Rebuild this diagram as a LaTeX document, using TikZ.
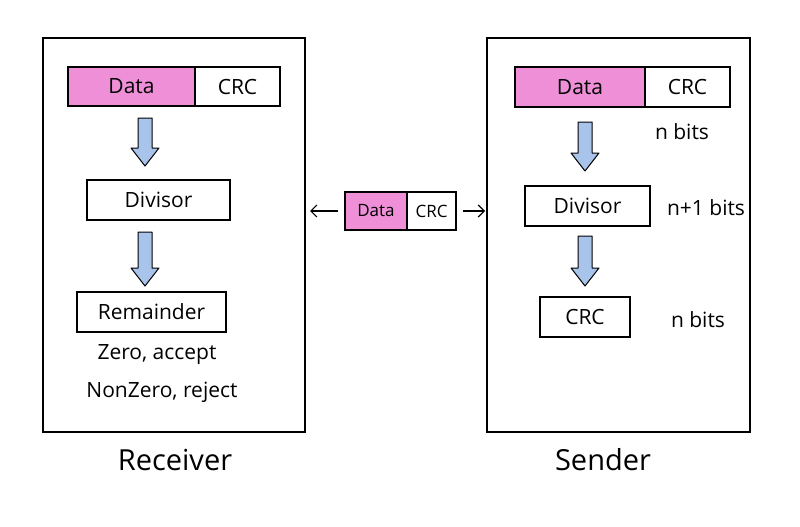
\documentclass[tikz,border=0pt]{standalone}
\usepackage{fontspec}
\setmainfont{Open Sans}
\usetikzlibrary{arrows.meta}
\definecolor{pinkf}{HTML}{EE8FD8}
\definecolor{bluef}{HTML}{A9C4EB}
\begin{document}
\begin{tikzpicture}[x=1pt,y=-1pt,
 frame/.style={draw,line width=1.2pt},
 box/.style={draw,line width=1.1pt,inner sep=0pt,font=\fontsize{21}{24}\selectfont},
 lbl/.style={font=\fontsize{21}{24}\selectfont,inner sep=0pt},
 big/.style={font=\fontsize{29}{34}\selectfont,inner sep=0pt},
 barrow/.style={draw,fill=bluef,line width=1pt,line join=round}]
\newcommand{\blockarrow}[3]{% x, ytop, ybottom
 \draw[barrow] (#1-7,#2) -- (#1+7,#2) -- (#1+7,#3-18) -- (#1+14,#3-18) -- (#1,#3) -- (#1-14,#3-18) -- (#1-7,#3-18) -- cycle;}
\useasboundingbox (0,0) rectangle (800,527);
\fill[white] (0,0) rectangle (800,527);
\draw[frame] (43,38) rectangle (305,432);
\draw[frame] (487,38) rectangle (750,432);
% receiver
\node[box,fill=pinkf,minimum width=127pt,minimum height=39pt] (rd) at (131.5,86.5) {Data};
\node[box,minimum width=85pt,minimum height=39pt] (rc) at (237.5,86.5) {CRC};
\blockarrow{145}{118}{166}
\node[box,minimum width=143pt,minimum height=40pt] (rdiv) at (158.5,200) {Divisor};
\blockarrow{145}{232}{286}
\node[box,minimum width=149pt,minimum height=40pt] (rrem) at (151.5,312) {Remainder};
\node[lbl] (z) at (157,355) {Zero, accept};
\node[lbl] (nz) at (162,392) {NonZero, reject};
\node[big] (recv) at (175,460) {Receiver};
% sender
\node[box,fill=pinkf,minimum width=130pt,minimum height=40pt] (sd) at (580,87) {Data};
\node[box,minimum width=85pt,minimum height=40pt] (sc) at (687.5,87) {CRC};
\node[lbl] (nb1) at (682,132) {n bits};
\blockarrow{585}{122}{171}
\node[box,minimum width=125pt,minimum height=40pt] (sdiv) at (587.5,206) {Divisor};
\node[lbl] (nb2) at (706,208) {n+1 bits};
\blockarrow{585}{236}{286}
\node[box,minimum width=90pt,minimum height=40pt] (scrc) at (585,317) {CRC};
\node[lbl] (nb3) at (698,320) {n bits};
\node[big] (send) at (603,460) {Sender};
% middle
\node[box,fill=pinkf,minimum width=62pt,minimum height=38pt,font=\fontsize{17}{20}\selectfont] (md) at (376,211) {Data};
\node[box,minimum width=49pt,minimum height=38pt,font=\fontsize{17}{20}\selectfont] (mc) at (431.5,211) {CRC};
\draw[-{Straight Barb[length=6pt,width=12pt]},line width=1.2pt] (md.west)++(-6,0) -- (310,211);
\draw[-{Straight Barb[length=6pt,width=12pt]},line width=1.2pt] (mc.east)++(6,0) -- (485,211);
\end{tikzpicture}
\end{document}
